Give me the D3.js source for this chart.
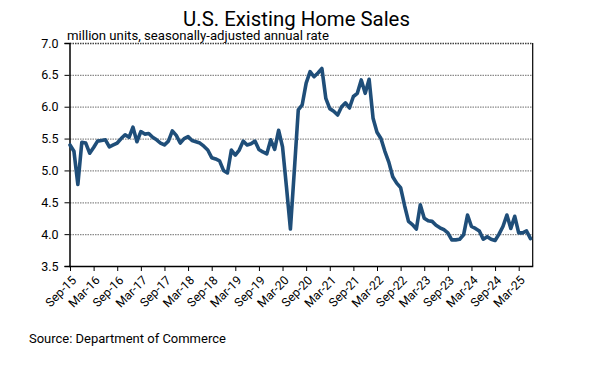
<!DOCTYPE html>
<html>
<head>
<meta charset="utf-8">
<script src="https://cdn.jsdelivr.net/npm/d3@7"></script>
<style>
  html, body { margin: 0; padding: 0; background: #fff; }
  svg { display: block; font-family: Roboto, "Noto Sans", sans-serif; }
</style>
</head>
<body>
<svg id="chart" width="608" height="372"></svg>
<script>
// ---- data (million units, SAAR) ----
const startMonth = new Date(2015, 8, 1);   // Sep-15
const endMonth   = new Date(2025, 5, 1);   // Jun-25
const v2015 = [5.40, 5.30, 4.78, 5.44];
const v2016 = [5.43, 5.27, 5.36, 5.46, 5.47, 5.48, 5.37, 5.40, 5.43, 5.50, 5.56, 5.52];
const v2017 = [5.68, 5.45, 5.61, 5.57, 5.58, 5.52, 5.48, 5.43, 5.40, 5.46, 5.62, 5.55];
const v2018 = [5.43, 5.50, 5.53, 5.47, 5.45, 5.43, 5.38, 5.32, 5.20, 5.18, 5.15, 5.00];
const v2019 = [4.96, 5.32, 5.24, 5.32, 5.46, 5.40, 5.42, 5.46, 5.33, 5.29, 5.26, 5.48];
const v2020 = [5.33, 5.63, 5.37, 4.74, 4.08, 5.00, 5.95, 6.03, 6.37, 6.55, 6.47, 6.53];
const v2021 = [6.60, 6.13, 5.97, 5.93, 5.87, 6.00, 6.06, 5.98, 6.16, 6.21, 6.42, 6.21];
const v2022 = [6.43, 5.82, 5.60, 5.50, 5.30, 5.13, 4.90, 4.80, 4.73, 4.45, 4.20, 4.15];
const v2023 = [4.08, 4.46, 4.25, 4.21, 4.20, 4.14, 4.10, 4.07, 4.02, 3.91, 3.91, 3.92];
const v2024 = [3.99, 4.30, 4.12, 4.09, 4.05, 3.92, 3.96, 3.92, 3.90, 4.00, 4.12, 4.30];
const v2025 = [4.09, 4.28, 4.02, 4.02, 4.05, 3.93];
const xTickLabels = ["Sep-15","Mar-16","Sep-16","Mar-17","Sep-17","Mar-18","Sep-18","Mar-19",
  "Sep-19","Mar-20","Sep-20","Mar-21","Sep-21","Mar-22","Sep-22","Mar-23","Sep-23","Mar-24",
  "Sep-24","Mar-25"];
const yTicks = [3.5, 4.0, 4.5, 5.0, 5.5, 6.0, 6.5, 7.0];
const titleText = "U.S. Existing Home Sales";
const subtitleText = "million units, seasonally-adjusted annual rate";
const sourceText = "Source: Department of Commerce";

// ---- build ----
const fmtMonth = d3.timeFormat("%b-%y");
const months = d3.timeMonth.range(startMonth, d3.timeMonth.offset(endMonth, 1)).map(fmtMonth);
const values = [].concat(v2015, v2016, v2017, v2018, v2019, v2020, v2021, v2022, v2023, v2024, v2025);
const data = months.map((m, i) => ({ m, v: values[i] }));

const svg = d3.select("#chart");
const L = 70, R = 530.5, FR = 532.7, T = 43, B = 266;

const x = d3.scalePoint().domain(months).range([L, R]);
const y = d3.scaleLinear().domain([3.5, 7.0]).range([B, T]);

function fit(sel, target) {
  const w = sel.node().getComputedTextLength();
  const fs = parseFloat(sel.style("font-size"));
  sel.style("font-size", (fs * target / w) + "px");
}

// gridlines
svg.append("g").selectAll("line")
  .data(yTicks.filter(t => t > 3.5 && t < 7.0))
  .join("line")
  .attr("x1", L).attr("x2", FR)
  .attr("y1", d => y(d) + 0.5).attr("y2", d => y(d) + 0.5)
  .attr("stroke", "#8a8a8a").attr("stroke-width", 1.2)
  .attr("stroke-dasharray", "1.5,1");

// top border (dotted dark)
svg.append("line")
  .attr("x1", L).attr("x2", FR).attr("y1", y(7.0) + 0.5).attr("y2", y(7.0) + 0.5)
  .attr("stroke", "#404040").attr("stroke-width", 1.5).attr("stroke-dasharray", "1.5,1");
// right border
svg.append("line")
  .attr("x1", FR).attr("x2", FR).attr("y1", T).attr("y2", B)
  .attr("stroke", "#000").attr("stroke-width", 1.2);

// y axis
const yAxis = svg.append("g")
  .attr("transform", `translate(${L - 0.5},0)`)
  .call(d3.axisLeft(y).tickValues(yTicks).tickFormat(d3.format(".1f")).tickSize(5).tickPadding(6));
yAxis.select(".domain").attr("stroke", "#000").attr("stroke-width", 1.5);
yAxis.selectAll(".tick line").attr("stroke", "#000");
yAxis.selectAll("text").style("font-size", "12.5px").attr("fill", "#000").style("font-family", "Roboto");

// x axis
const xAxis = svg.append("g")
  .attr("transform", `translate(0,${B})`)
  .call(d3.axisBottom(x).tickValues(xTickLabels).tickSize(5));
xAxis.select(".domain").attr("d", `M${L - 1},0.5H${FR + 0.6}`).attr("stroke", "#000").attr("stroke-width", 1.5);
xAxis.selectAll(".tick line").attr("stroke", "#000");
xAxis.selectAll("text")
  .attr("x", 0).attr("y", 0).attr("dy", "0.35em")
  .attr("transform", "translate(3.5,12) rotate(-45)")
  .style("text-anchor", "end")
  .style("font-size", "12.2px")
  .style("font-family", "Roboto")
  .attr("fill", "#000");

// line
svg.append("path")
  .datum(data)
  .attr("fill", "none")
  .attr("stroke", "#1f4e79")
  .attr("stroke-width", 3.6)
  .attr("stroke-linejoin", "round")
  .attr("stroke-linecap", "round")
  .attr("d", d3.line().x(d => x(d.m)).y(d => y(d.v)));

// title
const title = svg.append("text")
  .attr("x", 296.5).attr("y", 25.5)
  .attr("text-anchor", "middle")
  .style("font-size", "21px").attr("fill", "#000")
  .text(titleText);
fit(title, 227);

const sub = svg.append("text")
  .attr("x", 67).attr("y", 40)
  .style("font-size", "12.5px").attr("fill", "#000")
  .text(subtitleText);
fit(sub, 262);

const src = svg.append("text")
  .attr("x", 29).attr("y", 342.5)
  .style("font-size", "12.5px").attr("fill", "#000")
  .text(sourceText);
fit(src, 197);
</script>
</body>
</html>
